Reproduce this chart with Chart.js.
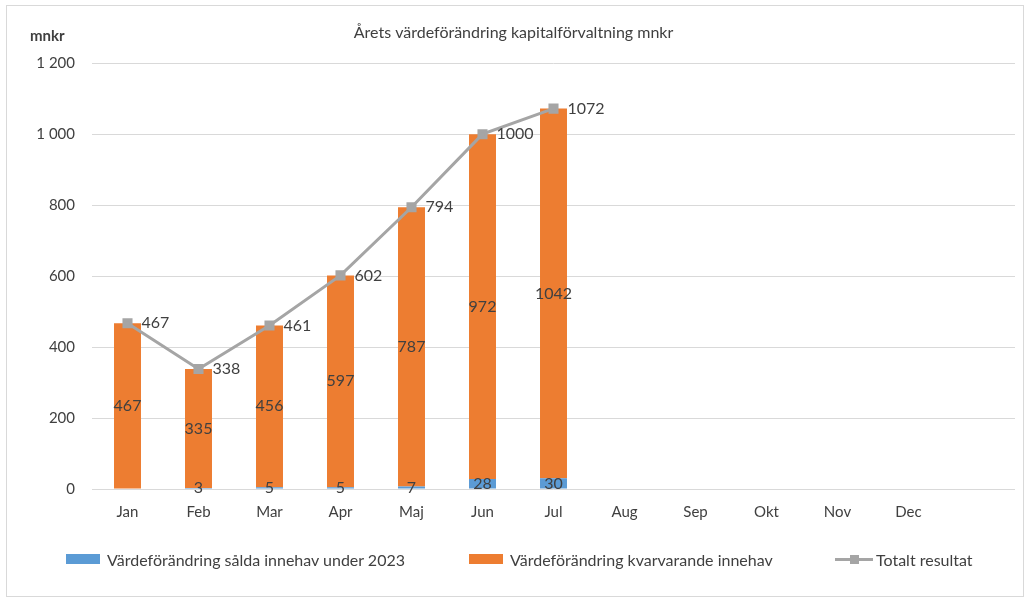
<!DOCTYPE html>
<html>
<head>
<meta charset="utf-8">
<script src="https://cdn.jsdelivr.net/npm/chart.js@4"></script>
<style>
  body { margin: 0; background: #fff; font-family: Lato, "Open Sans", sans-serif; }
  #wrap { position: absolute; left: 6px; top: 5px; width: 1016px; height: 590px; border: 1px solid #d9d9d9; }
  .item { position: absolute; top: 549px; height: 20px; display: flex; align-items: center; font-size: 16px; color: #404040; white-space: nowrap; }
  .box { width: 34px; height: 10px; margin-right: 7px; }
  .mark { position: relative; width: 38px; height: 10px; margin-right: 3px; }
  .mark::before { content: ''; position: absolute; left: 0; right: 0; top: 4px; height: 3px; background: #a5a5a5; }
  .mark::after { content: ''; position: absolute; left: 15px; top: 1px; width: 9px; height: 9px; background: #a5a5a5; }
</style>
</head>
<body>
<div id="wrap"><canvas id="chart"></canvas></div>
<div id="legend"></div>
<script>
const months = ['Jan', 'Feb', 'Mar', 'Apr', 'Maj', 'Jun', 'Jul', 'Aug', 'Sep', 'Okt', 'Nov', 'Dec', ''];
const soldHoldings = [null, 3, 5, 5, 7, 28, 30, null, null, null, null, null, null];
const remainingHoldings = [467, 335, 456, 597, 787, 972, 1042, null, null, null, null, null, null];
const totalResult = [467, 338, 461, 602, 794, 1000, 1072, null, null, null, null, null, null];

const fontFamily = 'Lato, "Open Sans", sans-serif';
const textColor = '#404040';

const fmt = v => String(v).replace(/\B(?=(\d{3})+(?!\d))/g, ' ');

// draws the value labels and the "mnkr" unit
const labelPlugin = {
    id: 'labels',
    afterDatasetsDraw(chart) {
        const ctx = chart.ctx;
        ctx.save();
        ctx.font = '16px ' + fontFamily;
        ctx.fillStyle = textColor;
        ctx.textBaseline = 'middle';
        chart.data.datasets.forEach((ds, i) => {
            const meta = chart.getDatasetMeta(i);
            meta.data.forEach((el, j) => {
                const v = ds.data[j];
                if (v === null) return;
                if (ds.type === 'line') {
                    ctx.textAlign = 'left';
                    ctx.fillText(String(v), el.x + 14, el.y);
                } else {
                    ctx.textAlign = 'center';
                    ctx.fillText(String(v), el.x, (el.y + el.base) / 2);
                }
            });
        });
        ctx.font = 'bold 15px ' + fontFamily;
        ctx.textAlign = 'left';
        ctx.fillText('mnkr', 23, 30);
        ctx.restore();
    }
};

const chart = new Chart(document.getElementById('chart'), {
    type: 'bar',
    data: {
        labels: months,
        datasets: [
            {
                label: 'Värdeförändring sålda innehav under 2023',
                data: soldHoldings,
                backgroundColor: '#5b9bd5',
                stack: 'bars',
                order: 2
            },
            {
                label: 'Värdeförändring kvarvarande innehav',
                data: remainingHoldings,
                backgroundColor: '#ed7d31',
                stack: 'bars',
                order: 2
            },
            {
                type: 'line',
                label: 'Totalt resultat',
                data: totalResult,
                borderColor: '#a5a5a5',
                backgroundColor: '#a5a5a5',
                borderWidth: 3,
                pointStyle: 'rect',
                pointRadius: 5,
                stack: 'line',
                order: 1
            }
        ]
    },
    options: {
        responsive: true,
        maintainAspectRatio: false,
        animation: false,
        barPercentage: 0.38,
        categoryPercentage: 1,
        layout: { padding: { left: 0, right: 3, bottom: 67 } },
        scales: {
            x: {
                stacked: true,
                grid: { display: false },
                border: { display: false },
                ticks: { color: textColor, font: { family: fontFamily, size: 15 }, padding: 6, maxRotation: 0 },
                afterFit: s => { s.height = 40; }
            },
            y: {
                stacked: true,
                min: 0,
                max: 1200,
                grid: { color: '#d9d9d9', drawTicks: false },
                border: { display: false },
                ticks: {
                    stepSize: 200,
                    color: textColor,
                    padding: 17,
                    font: { family: fontFamily, size: 15 },
                    callback: v => fmt(v)
                },
                afterFit: s => { s.width = 85; }
            }
        },
        plugins: {
            title: {
                display: true,
                text: 'Årets värdeförändring kapitalförvaltning mnkr',
                color: textColor,
                font: { family: fontFamily, size: 16, weight: 'normal' },
                padding: { top: 17, bottom: 21 }
            },
            legend: { display: false },
            tooltip: { enabled: false }
        }
    },
    plugins: [labelPlugin]
});

// legend laid out like the original, built from the dataset labels and colours
const legendLeft = [66, 469, 835];
const legend = document.getElementById('legend');
chart.data.datasets.forEach((ds, i) => {
    const item = document.createElement('div');
    item.className = 'item';
    item.style.left = legendLeft[i] + 'px';
    const marker = document.createElement('span');
    if (ds.type === 'line') {
        marker.className = 'mark';
    } else {
        marker.className = 'box';
        marker.style.background = ds.backgroundColor;
    }
    item.appendChild(marker);
    item.appendChild(document.createTextNode(ds.label));
    legend.appendChild(item);
});
</script>
</body>
</html>
